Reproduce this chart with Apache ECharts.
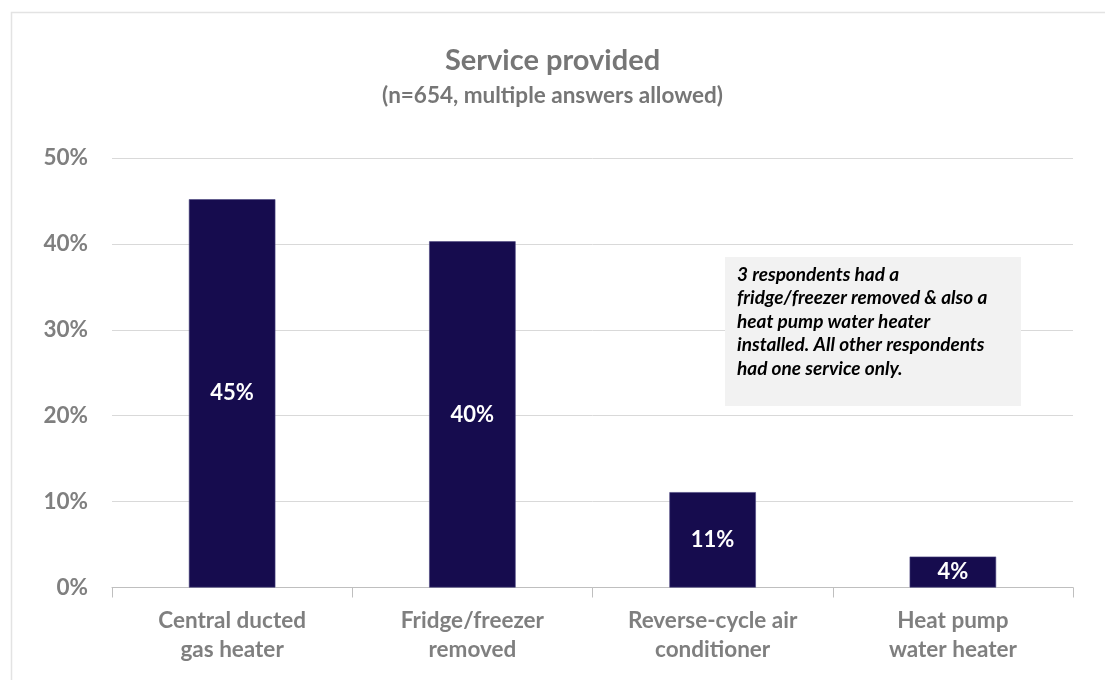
<!DOCTYPE html>
<html>
<head>
<meta charset="utf-8">
<script src="https://cdn.jsdelivr.net/npm/echarts@6/dist/echarts.min.js"></script>
<style>
  html, body { margin: 0; padding: 0; background: #fff; }
  #chart { width: 1105px; height: 680px; }
</style>
</head>
<body>
<div id="chart"></div>
<script>
// Share of respondents by service provided (percent)
const categories = ['Central ducted\ngas heater', 'Fridge/freezer\nremoved', 'Reverse-cycle air\nconditioner', 'Heat pump\nwater heater'];
const shares = [45.2, 40.3, 11.1, 3.6];
const yTicks = [0, 10, 20, 30, 40, 50];
const noteLines = [
  '3 respondents had a',
  'fridge/freezer removed & also a',
  'heat pump water heater',
  'installed. All other respondents',
  'had one service only.'
];

const FONT = 'Lato, "Open Sans", sans-serif';
const GREY = '#7f7f7f';

const chart = echarts.init(document.getElementById('chart'), null, { renderer: 'canvas' });

chart.setOption({
  backgroundColor: '#ffffff',
  animation: false,
  title: {
    text: 'Service provided',
    subtext: '(n=654, multiple answers allowed)',
    left: 'center',
    top: 41,
    itemGap: 9,
    textStyle: { fontFamily: FONT, fontSize: 29, fontWeight: 'bold', color: '#767676' },
    subtextStyle: { fontFamily: FONT, fontSize: 22.5, fontWeight: 'bold', color: '#767676' }
  },
  grid: { left: 112, right: 32, top: 158, bottom: 92.5 },
  xAxis: {
    type: 'category',
    data: categories,
    axisLine: { lineStyle: { color: '#bfbfbf', width: 1 } },
    axisTick: { show: true, length: 10, lineStyle: { color: '#bfbfbf' } },
    axisLabel: {
      fontFamily: FONT, fontSize: 22.5, fontWeight: 'bold', color: GREY,
      margin: 19, lineHeight: 29
    }
  },
  yAxis: {
    type: 'value',
    min: yTicks[0],
    max: yTicks[yTicks.length - 1],
    interval: 10,
    axisLine: { show: false },
    axisTick: { show: false },
    splitLine: { lineStyle: { color: '#d9d9d9', width: 1 } },
    axisLabel: {
      fontFamily: FONT, fontSize: 22.5, fontWeight: 'bold', color: GREY,
      margin: 24, formatter: v => v + '%'
    }
  },
  series: [{
    type: 'bar',
    data: shares,
    barWidth: '36%',
    itemStyle: { color: '#160c4e', borderColor: '#4a4480', borderWidth: 0.6 },
    label: {
      show: true,
      position: 'inside',
      fontFamily: FONT, fontSize: 22, fontWeight: 'bold', color: '#ffffff',
      formatter: p => Math.round(p.value) + '%'
    }
  }],
  graphic: [
    {
      type: 'rect',
      left: 9, top: 10,
      shape: { width: 1110, height: 680 },
      style: { fill: 'none', stroke: '#e3e3e3', lineWidth: 1.5 },
      silent: true
    },
    {
      type: 'rect',
      left: 725, top: 257,
      shape: { width: 296, height: 149 },
      style: { fill: '#f2f2f2' },
      z: 10
    },
    {
      type: 'text',
      left: 737, top: 263,
      style: {
        text: noteLines.join('\n'),
        fontFamily: FONT, fontSize: 19, fontWeight: 'bold', fontStyle: 'italic',
        lineHeight: 23.5, fill: '#000000'
      },
      z: 11
    }
  ]
});
</script>
</body>
</html>
